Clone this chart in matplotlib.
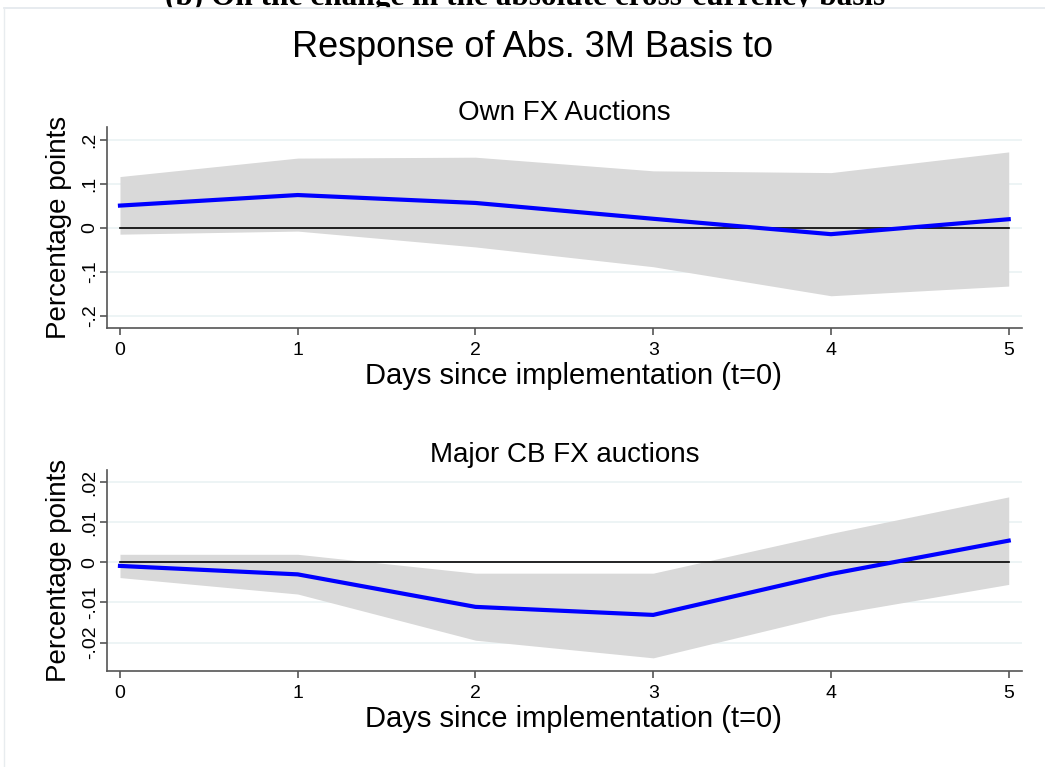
import matplotlib
matplotlib.use("Agg")
import matplotlib.pyplot as plt
from matplotlib.lines import Line2D
from matplotlib.patches import Rectangle

days = [0, 1, 2, 3, 4, 5]

own_irf = [0.050, 0.074, 0.056, 0.020, -0.015, 0.019]
own_hi = [0.116, 0.158, 0.160, 0.129, 0.125, 0.172]
own_lo = [-0.015, -0.008, -0.044, -0.089, -0.155, -0.133]

cb_irf = [-0.0009, -0.0030, -0.0111, -0.0131, -0.0029, 0.0054]
cb_hi = [0.0020, 0.0020, -0.0027, -0.0027, 0.0072, 0.0163]
cb_lo = [-0.0038, -0.0079, -0.0194, -0.0238, -0.0131, -0.0055]

own_yticks = [-0.2, -0.1, 0.0, 0.1, 0.2]
own_ylabels = ["-.2", "-.1", "0", ".1", ".2"]
cb_yticks = [-0.02, -0.01, 0.0, 0.01, 0.02]
cb_ylabels = ["-.02", "-.01", "0", ".01", ".02"]

plt.rcParams['font.family'] = ['Liberation Sans', 'DejaVu Sans']

W, H = 1045, 767
fig = plt.figure(figsize=(W / 100, H / 100), dpi=100)
fig.patch.set_facecolor('white')

def fx(px):
    return px / W

def fy(py):
    return 1 - py / H

# cut-off caption at top (only its lower part shows)
fig.text(fx(525), fy(5), "(b) On the change in the absolute cross-currency basis",
         ha='center', va='baseline', fontsize=22.5, fontweight='bold',
         family='Liberation Serif', zorder=-2)
fig.add_artist(Rectangle((0, 0), 1, fy(7.5), transform=fig.transFigure,
                         facecolor='white', edgecolor='none', zorder=-1))
fig.add_artist(Line2D([fx(3.5), 1], [fy(7.5), fy(7.5)], transform=fig.transFigure,
                      color='#e3e8ec', lw=1.2, zorder=-0.5))
fig.add_artist(Line2D([fx(3.5), fx(3.5)], [0, fy(7.5)], transform=fig.transFigure,
                      color='#e8ecef', lw=1.0, zorder=-0.5))

fig.text(fx(532.7), fy(57), "Response of Abs. 3M Basis to", ha='center', va='baseline', fontsize=26)

AX_L, AX_R = 107, 1021.7

def panel(top, bottom, irf, lo, hi, yticks, ylabels, ylim, title):
    h = bottom - top
    ax = fig.add_axes([fx(AX_L), fy(bottom), (AX_R - AX_L) / W, h / H])
    ax.fill_between(days, lo, hi, color='#d9d9d9', lw=0, zorder=1)
    ax.plot([days[0], days[-1]], [0, 0], color='black', lw=1.2, zorder=2)
    ax.plot(days, irf, color='#0000ff', lw=3.0, zorder=3)
    ax.set_xlim(-0.073, 5.073)
    ax.set_ylim(*ylim)
    ax.set_yticks(yticks)
    ax.set_yticklabels(ylabels, rotation=90, va='center', fontsize=14)
    ax.set_xticks(days)
    ax.set_xticklabels([str(d) for d in days], fontsize=14)
    ax.grid(axis='y', color='#eaf2f3', lw=1.2, zorder=0)
    ax.set_axisbelow(True)
    for s in ['top', 'right']:
        ax.spines[s].set_visible(False)
    for s in ['left', 'bottom']:
        ax.spines[s].set_color('#555555')
        ax.spines[s].set_linewidth(1.2)
    ax.tick_params(axis='both', direction='out', length=5, color='#555555', width=1.2)
    ax.tick_params(axis='x', pad=5)
    ax.tick_params(axis='y', pad=1)
    ax.set_ylabel("Percentage points", fontsize=20)
    ax.yaxis.set_label_coords((72 - AX_L) / (AX_R - AX_L), 0.5)
    ax.set_xlabel("Days since implementation (t=0)", fontsize=21, va='top')
    ax.xaxis.set_label_coords((573 - AX_L) / (AX_R - AX_L), -34 / h)
    ax.set_title(title, fontsize=20, pad=5.5)
    return ax

panel(127.3, 328.3, own_irf, own_lo, own_hi, own_yticks, own_ylabels,
      (-0.229, 0.228), "Own FX Auctions")
panel(470, 670.7, cb_irf, cb_lo, cb_hi, cb_yticks, cb_ylabels,
      (-0.027, 0.023), "Major CB FX auctions")

fig.savefig("out.png", dpi=100, facecolor='white')
